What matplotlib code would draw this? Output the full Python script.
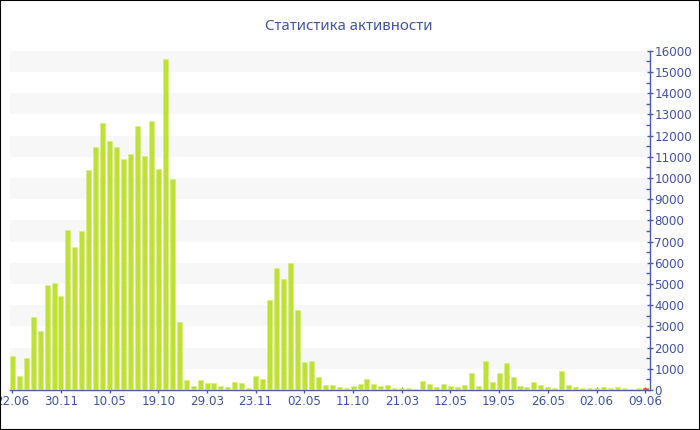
import matplotlib
matplotlib.use("Agg")
import matplotlib.pyplot as plt
from matplotlib.ticker import MultipleLocator, FixedLocator
from matplotlib.patches import Rectangle

title = "Статистика активности"

values = [1600, 680, 1500, 3440, 2780, 4970, 5060, 4420, 7550, 6760,
          7500, 10380, 11450, 12590, 11760, 11450, 10910, 11150, 12470, 11040,
          12690, 10440, 15610, 9950, 3210, 470, 190, 490, 315, 346,
          204, 157, 361, 350, 110, 677, 519, 4245, 5770, 5252,
          5990, 3790, 1337, 1368, 598, 220, 220, 157, 110, 173,
          267, 519, 283, 173, 220, 94, 94, 94, 63, 409,
          299, 141, 267, 173, 126, 252, 780, 189, 1352, 393,
          802, 1274, 597, 189, 157, 361, 236, 141, 94, 880,
          236, 157, 94, 94, 78, 126, 94, 141, 94, 63,
          94, 78, 94]
values = values[:92]

tick_labels = ["22.06", "30.11", "10.05", "19.10", "29.03", "23.11", "02.05",
               "11.10", "21.03", "12.05", "19.05", "26.05", "02.06", "09.06"]
tick_step = 7

bar_color = "#bde134"
last_color = "#e4572e"
axis_color = "#4a5aa6"
text_color = "#42529e"

fig = plt.figure(figsize=(7, 4.3), dpi=100)
W, H = 700, 430
ax = fig.add_axes([10 / W, (H - 390) / H, (649.5 - 10) / W, (390 - 50.7) / H])

n = len(values)
x = list(range(n))
colors = [bar_color] * (n - 1) + [last_color]
ax.bar(x, values, width=0.72, color=colors, edgecolor="#d6ee7e", linewidth=0.4, zorder=3)
ax.patches[-1].set_edgecolor(last_color)

ax.set_xlim(-0.33, n - 1 + 0.62)
ax.set_ylim(0, 16000)

# alternating bands
for lo in range(1000, 16000, 2000):
    ax.axhspan(lo, lo + 1000, color="#f7f7f7", zorder=0, lw=0)

ax.yaxis.tick_right()
ax.yaxis.set_major_locator(MultipleLocator(1000))
ax.yaxis.set_minor_locator(MultipleLocator(500))
ax.tick_params(axis="y", which="major", direction="inout", length=5, width=1,
               color=axis_color, labelcolor=text_color, labelsize=8.6, pad=1)
ax.tick_params(axis="y", which="minor", direction="in", length=3, width=1,
               color=axis_color)

ticks = list(range(0, n, tick_step))
ax.xaxis.set_major_locator(FixedLocator(ticks))
ax.set_xticklabels(tick_labels[:len(ticks)])
ax.tick_params(axis="x", which="major", direction="inout", length=4, width=1,
               color=axis_color, labelcolor=text_color, labelsize=8.6, pad=1.5)

for s in ["top", "left"]:
    ax.spines[s].set_visible(False)
ax.spines["right"].set_color(axis_color)
ax.spines["bottom"].set_color(axis_color)
ax.spines["right"].set_linewidth(1)
ax.spines["bottom"].set_linewidth(1)

fig.text(349 / W, 1 - 26 / H, title, ha="center", va="center",
         fontsize=10.8, color=text_color, family=["Noto Sans", "DejaVu Sans"])

fig.patches.append(Rectangle((0, 0), 1, 1, transform=fig.transFigure,
                             fill=False, edgecolor="black", linewidth=1.5))

fig.savefig("out.png", dpi=100)
